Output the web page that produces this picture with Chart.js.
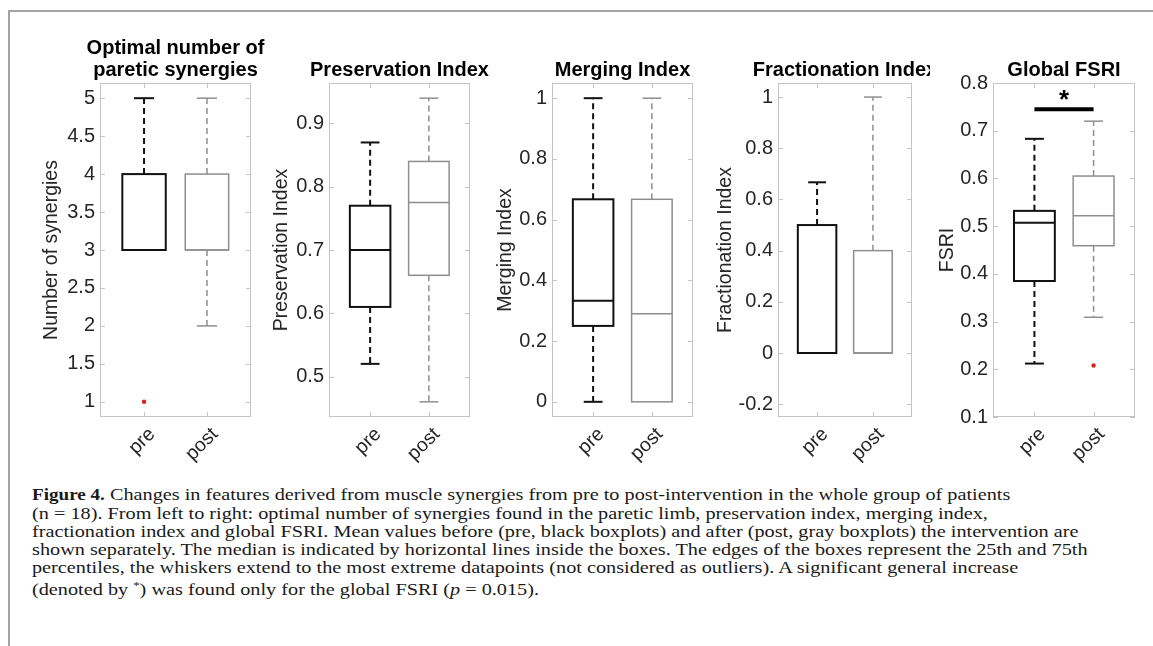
<!DOCTYPE html>
<html>
<head>
<meta charset="utf-8">
<script src="https://cdn.jsdelivr.net/npm/chart.js@4.4.0/dist/chart.umd.min.js"></script>
<style>
  html, body { margin: 0; padding: 0; background: #fff; overflow: hidden; }
  body { width: 1153px; height: 646px; position: relative; }
  .frame { position: absolute; left: 8px; top: 10px; right: 0; bottom: 0;
           border-top: 2px solid #a3a3a3; border-left: 2px solid #a3a3a3; }
  .panel { position: absolute; top: 37px; height: 433px; }
  .caption { position: absolute; left: 32px; top: 485px; color: #1a1a1a;
             font-family: "Liberation Serif", serif; font-size: 17.5px; line-height: 18px;
             white-space: nowrap; transform: scaleX(1.157); transform-origin: 0 0; }
  .caption b { font-size: 16.5px; }
  .caption sup { font-size: 11px; vertical-align: 6px; }
</style>
</head>
<body>
<div class="frame"></div>
<div class="panel" id="p1"><canvas id="c1"></canvas></div>
<div class="panel" id="p2"><canvas id="c2"></canvas></div>
<div class="panel" id="p3"><canvas id="c3"></canvas></div>
<div class="panel" id="p4"><canvas id="c4"></canvas></div>
<div class="panel" id="p5"><canvas id="c5"></canvas></div>
<div class="caption">
  <b>Figure 4.</b> Changes in features derived from muscle synergies from pre to post-intervention in the whole group of patients<br>
  (n = 18). From left to right: optimal number of synergies found in the paretic limb, preservation index, merging index,<br>
  fractionation index and global FSRI. Mean values before (pre, black boxplots) and after (post, gray boxplots) the intervention are<br>
  shown separately. The median is indicated by horizontal lines inside the boxes. The edges of the boxes represent the 25th and 75th<br>
  percentiles, the whiskers extend to the most extreme datapoints (not considered as outliers). A significant general increase<br>
  (denoted by <sup>*</sup>) was found only for the global FSRI (<i>p</i> = 0.015).
</div>
<script>
const groups = ['pre', 'post'];

// optimal number of paretic synergies
const synLow = [3, 2];
const synQ1 = [3, 3];
const synMedian = [3, 3];
const synQ3 = [4, 4];
const synHigh = [5, 5];
const synOutliers = [[1], []];
const synTicks = [1, 1.5, 2, 2.5, 3, 3.5, 4, 4.5, 5];

// preservation index
const presLow = [0.52, 0.46];
const presQ1 = [0.61, 0.66];
const presMedian = [0.70, 0.775];
const presQ3 = [0.77, 0.84];
const presHigh = [0.87, 0.94];
const presTicks = [0.5, 0.6, 0.7, 0.8, 0.9];

// merging index
const mergLow = [0, 0];
const mergQ1 = [0.25, 0];
const mergMedian = [0.333, 0.29];
const mergQ3 = [0.667, 0.667];
const mergHigh = [1, 1];
const mergTicks = [0, 0.2, 0.4, 0.6, 0.8, 1];

// fractionation index
const fracLow = [0, 0];
const fracQ1 = [0, 0];
const fracMedian = [0, 0];
const fracQ3 = [0.5, 0.4];
const fracHigh = [0.667, 1];
const fracTicks = [-0.2, 0, 0.2, 0.4, 0.6, 0.8, 1];

// global FSRI
const fsriLow = [0.212, 0.309];
const fsriQ1 = [0.385, 0.459];
const fsriMedian = [0.507, 0.522];
const fsriQ3 = [0.532, 0.605];
const fsriHigh = [0.683, 0.72];
const fsriOutliers = [[], [0.208]];
const fsriTicks = [0.1, 0.2, 0.3, 0.4, 0.5, 0.6, 0.7, 0.8];
const fsriSignificance = 0.745;

const panels = [
  { id: 1, title: ['Optimal number of', 'paretic synergies'], ylabel: 'Number of synergies',
    stats: [synLow, synQ1, synMedian, synQ3, synHigh], outliers: synOutliers,
    ticks: synTicks, min: 0.8, max: 5.2 },
  { id: 2, title: ['Preservation Index'], ylabel: 'Preservation Index',
    stats: [presLow, presQ1, presMedian, presQ3, presHigh], outliers: [[], []],
    ticks: presTicks, min: 0.436, max: 0.964 },
  { id: 3, title: ['Merging Index'], ylabel: 'Merging Index',
    stats: [mergLow, mergQ1, mergMedian, mergQ3, mergHigh], outliers: [[], []],
    ticks: mergTicks, min: -0.05, max: 1.05 },
  { id: 4, title: ['Fractionation Index'], ylabel: 'Fractionation Index',
    stats: [fracLow, fracQ1, fracMedian, fracQ3, fracHigh], outliers: [[], []],
    ticks: fracTicks, min: -0.25, max: 1.055 },
  { id: 5, title: ['Global FSRI'], ylabel: 'FSRI',
    stats: [fsriLow, fsriQ1, fsriMedian, fsriQ3, fsriHigh], outliers: fsriOutliers,
    ticks: fsriTicks, min: 0.1, max: 0.8, significance: fsriSignificance }
];

// where each axes sits on the page
const layout = [
  { left: 34,  yAxisW: 66, plotW: 151, padRight: 30 },
  { left: 264, yAxisW: 65, plotW: 141, padRight: 30 },
  { left: 488, yAxisW: 64, plotW: 141, padRight: 30 },
  { left: 708, yAxisW: 70, plotW: 134, padRight: 30 },
  { left: 930, yAxisW: 63, plotW: 142, padRight: 18, white: true }
];

const lineColors = ['#111111', '#8e8e8e'];
const lineWidths = [2, 1.5];
const axisColor = '#c4c4c4';
const textColor = '#262626';
const BOX_HALF = 0.345;
const CAP_HALF = 0.16;
const TITLE_SPACE = 46;

Chart.defaults.font.family = '"Liberation Sans", Arial, sans-serif';

function boxPlotPlugin(panel) {
  return {
    id: 'boxPlot' + panel.id,
    beforeDatasetsDraw(chart) {
      const { ctx, chartArea: a, scales: { x, y } } = chart;
      ctx.save();

      // axes box with inward ticks, matlab style
      ctx.strokeStyle = axisColor;
      ctx.lineWidth = 1;
      ctx.strokeRect(a.left + 0.5, a.top + 0.5, a.width - 1, a.height - 1);
      ctx.beginPath();
      y.ticks.forEach(t => {
        const py = Math.round(y.getPixelForValue(t.value)) + 0.5;
        ctx.moveTo(a.left, py); ctx.lineTo(a.left + 5, py);
        ctx.moveTo(a.right, py); ctx.lineTo(a.right - 5, py);
      });
      x.ticks.forEach(t => {
        const px = Math.round(x.getPixelForValue(t.value)) + 0.5;
        ctx.moveTo(px, a.bottom); ctx.lineTo(px, a.bottom - 5);
        ctx.moveTo(px, a.top); ctx.lineTo(px, a.top + 5);
      });
      ctx.stroke();

      const seg = (x1, y1, x2, y2) => {
        ctx.beginPath(); ctx.moveTo(x1, y1); ctx.lineTo(x2, y2); ctx.stroke();
      };

      groups.forEach((g, i) => {
        const [lo, q1, med, q3, hi] = panel.stats.map(s => s[i]);
        const pos = i + 1;
        const cx = x.getPixelForValue(pos);
        const bl = x.getPixelForValue(pos - BOX_HALF), br = x.getPixelForValue(pos + BOX_HALF);
        const cl = x.getPixelForValue(pos - CAP_HALF), cr = x.getPixelForValue(pos + CAP_HALF);
        ctx.strokeStyle = lineColors[i];
        ctx.lineWidth = lineWidths[i];

        ctx.setLineDash([6, 4]);
        if (hi > q3) seg(cx, y.getPixelForValue(q3), cx, y.getPixelForValue(hi));
        if (lo < q1) seg(cx, y.getPixelForValue(q1), cx, y.getPixelForValue(lo));
        ctx.setLineDash([]);
        if (hi > q3) seg(cl, y.getPixelForValue(hi), cr, y.getPixelForValue(hi));
        if (lo < q1) seg(cl, y.getPixelForValue(lo), cr, y.getPixelForValue(lo));

        const top = y.getPixelForValue(q3), bottom = y.getPixelForValue(q1);
        ctx.strokeRect(bl, top, br - bl, bottom - top);
        seg(bl, y.getPixelForValue(med), br, y.getPixelForValue(med));
      });
      ctx.restore();
    },
    afterDraw(chart) {
      const { ctx, chartArea: a, scales: { x, y } } = chart;
      ctx.save();
      // title centred over the axes, never squeezed
      ctx.fillStyle = '#000';
      ctx.font = 'bold 20px "Liberation Sans", Arial, sans-serif';
      ctx.textAlign = 'center';
      ctx.textBaseline = 'middle';
      const n = panel.title.length;
      panel.title.forEach((line, j) => {
        ctx.fillText(line, (a.left + a.right) / 2, a.top - 13 - (n - 1 - j) * 22);
      });
      if (panel.significance !== undefined) {
        ctx.font = 'bold 26px "Liberation Sans", Arial, sans-serif';
        ctx.fillText('*', x.getPixelForValue(1.5), y.getPixelForValue(panel.significance) - 8);
      }
      ctx.restore();
    }
  };
}

panels.forEach((panel, k) => {
  const box = layout[k];
  const wrap = document.getElementById('p' + panel.id);
  wrap.style.left = box.left + 'px';
  wrap.style.width = (box.yAxisW + box.plotW + box.padRight) + 'px';
  if (box.white) wrap.style.background = '#fff';

  const datasets = [{
    data: panel.outliers.flatMap((vals, i) => vals.map(v => ({ x: i + 1, y: v }))),
    pointRadius: 2.2,
    pointBackgroundColor: '#e0201b',
    pointBorderWidth: 0
  }];
  if (panel.significance !== undefined) {
    datasets.push({
      data: [{ x: 1, y: panel.significance }, { x: 2, y: panel.significance }],
      showLine: true,
      borderColor: '#000',
      borderWidth: 4,
      pointRadius: 0
    });
  }

  new Chart(document.getElementById('c' + panel.id), {
    type: 'scatter',
    data: { datasets },
    options: {
      responsive: true,
      maintainAspectRatio: false,
      animation: false,
      layout: { padding: { left: 0, right: box.padRight, top: TITLE_SPACE, bottom: 0 } },
      plugins: {
        legend: { display: false },
        tooltip: { enabled: false },
        title: { display: false }
      },
      scales: {
        x: {
          type: 'linear',
          min: 0.3,
          max: 2.7,
          grid: { display: false, drawTicks: false },
          border: { display: false },
          afterBuildTicks: axis => { axis.ticks = groups.map((g, i) => ({ value: i + 1 })); },
          afterFit: axis => { axis.height = 53; },
          ticks: {
            minRotation: 45,
            maxRotation: 45,
            padding: 6,
            labelOffset: 8,
            color: textColor,
            font: { size: 19.5 },
            callback: v => groups[v - 1]
          }
        },
        y: {
          min: panel.min,
          max: panel.max,
          grid: { display: false, drawTicks: false },
          border: { display: false },
          afterBuildTicks: axis => { axis.ticks = panel.ticks.map(v => ({ value: v })); },
          afterFit: axis => { axis.width = box.yAxisW; },
          ticks: {
            padding: 5,
            color: textColor,
            font: { size: 20 },
            callback: v => String(v)
          },
          title: {
            display: true,
            text: panel.ylabel,
            color: textColor,
            font: { size: 19.5 },
            padding: { top: 6, bottom: 0 }
          }
        }
      }
    },
    plugins: [boxPlotPlugin(panel)]
  });
});
</script>
</body>
</html>
